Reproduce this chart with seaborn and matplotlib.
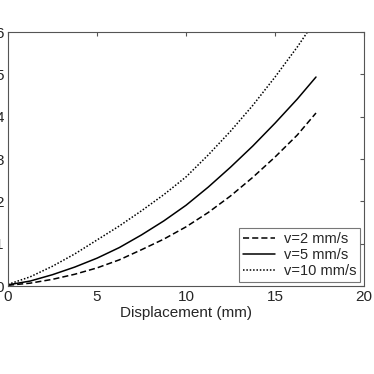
import pandas as pd
import seaborn as sns
import matplotlib.pyplot as plt

# data
disp = [0, 1.25, 2.5, 3.75, 5, 6.25, 7.5, 8.75, 10, 11.25, 12.5, 13.75, 15, 16.25, 17.3]
f_v2 = [0.02, 0.07, 0.16, 0.28, 0.43, 0.62, 0.86, 1.11, 1.40, 1.74, 2.13, 2.57, 3.05, 3.57, 4.09]
f_v5 = [0.03, 0.12, 0.27, 0.45, 0.66, 0.91, 1.21, 1.54, 1.91, 2.34, 2.81, 3.31, 3.85, 4.42, 4.94]
f_v10 = [0.04, 0.22, 0.47, 0.76, 1.09, 1.42, 1.78, 2.16, 2.58, 3.10, 3.66, 4.27, 4.94, 5.65, 6.30]
labels = ["v=2 mm/s", "v=5 mm/s", "v=10 mm/s"]

df = pd.concat([
    pd.DataFrame({"x": disp, "y": f_v2, "v": labels[0]}),
    pd.DataFrame({"x": disp, "y": f_v5, "v": labels[1]}),
    pd.DataFrame({"x": disp, "y": f_v10, "v": labels[2]}),
])

sns.set_style("white")
plt.rcParams["font.family"] = ["Liberation Sans", "DejaVu Sans"]

fig = plt.figure(figsize=(3.74, 3.74), dpi=100)
ax = fig.add_axes([0.0214, 0.235, 0.952, 0.679])

sns.lineplot(data=df, x="x", y="y", style="v", style_order=labels,
             dashes={labels[0]: (4, 2), labels[1]: "", labels[2]: (1, 1.2)},
             color="black", linewidth=1.1, ax=ax, legend=True)

ax.set_xlim(0, 20)
ax.set_ylim(0, 6)
ax.set_xticks([0, 5, 10, 15, 20])
ax.set_yticks([0, 1, 2, 3, 4, 5, 6])
ax.set_xlabel("Displacement (mm)", fontsize=11, labelpad=1)
ax.set_ylabel("")
ax.tick_params(direction="in", length=3, width=0.8, labelsize=11, pad=3,
               top=True, right=True, color="#555555")
for s in ax.spines.values():
    s.set_color("#555555")
    s.set_linewidth(0.8)

h, l = ax.get_legend_handles_labels()
leg = ax.legend(h[-3:], l[-3:], loc="lower right", fontsize=10.5, frameon=True,
                fancybox=False, edgecolor="#555555", handlelength=2.2,
                borderaxespad=0.3, labelspacing=0.15, handletextpad=0.6,
                borderpad=0.25)
leg.get_frame().set_linewidth(0.8)

fig.savefig("out.png", dpi=100)
